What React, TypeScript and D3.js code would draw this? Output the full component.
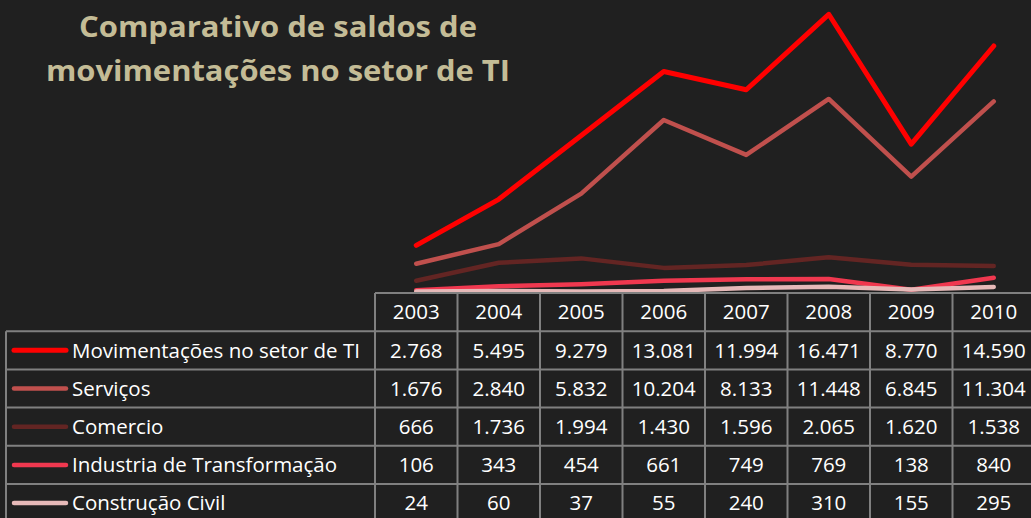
import React from "react";
import * as d3 from "d3";

const years = ["2003", "2004", "2005", "2006", "2007", "2008", "2009", "2010"];
const seriesNames = [
  "Movimentações no setor de TI",
  "Serviços",
  "Comercio",
  "Industria de Transformação",
  "Construção Civil",
];
const movimentacoes = [2768, 5495, 9279, 13081, 11994, 16471, 8770, 14590];
const servicos = [1676, 2840, 5832, 10204, 8133, 11448, 6845, 11304];
const comercio = [666, 1736, 1994, 1430, 1596, 2065, 1620, 1538];
const industria = [106, 343, 454, 661, 749, 769, 138, 840];
const construcao = [24, 60, 37, 55, 240, 310, 155, 295];
const seriesValues = [movimentacoes, servicos, comercio, industria, construcao];
const seriesColors = ["#FF0000", "#C0504D", "#632523", "#F0384F", "#E6B9B8"];
const titleLines = ["Comparativo de saldos de", "movimentações no setor de TI"];

const W = 1031;
const H = 518;
const colLeft = 375;
const colW = 82.5;
const legendLeft = 6;
const headerTop = 293;
const rowH = 38.2;

const fmt = d3.formatLocale({ decimal: ",", thousands: ".", grouping: [3], currency: ["R$", ""] }).format(",d");

export default function App() {
  const x = d3
    .scaleBand<string>()
    .domain(years)
    .range([colLeft, colLeft + colW * years.length])
    .paddingInner(0)
    .paddingOuter(0);
  const y = d3.scaleLinear().domain([0, 18000]).range([292, -11.5]);
  const line = d3
    .line<number>()
    .x((_, i) => (x(years[i]) as number) + x.bandwidth() / 2)
    .y((d) => y(d));

  const tableRight = colLeft + colW * years.length;
  const grid = "#808080";
  const font = "'Open Sans', 'DejaVu Sans', sans-serif";
  const fs = 20.5;
  const dy = 7.3;

  return (
    <svg
      width={W}
      height={H}
      style={{ position: "absolute", left: 0, top: 0, background: "#202020" }}
    >
      <rect x={0} y={0} width={W} height={H} fill="#202020" />
      <text
        x={278}
        y={37}
        textAnchor="middle"
        fill="#C4BC96"
        fontFamily={font}
        fontWeight="bold"
        fontSize={29}
        textLength={398}
        lengthAdjust="spacingAndGlyphs"
      >
        {titleLines[0]}
      </text>
      <text
        x={278}
        y={81}
        textAnchor="middle"
        fill="#C4BC96"
        fontFamily={font}
        fontWeight="bold"
        fontSize={29}
        textLength={464}
        lengthAdjust="spacingAndGlyphs"
      >
        {titleLines[1]}
      </text>

      {/* lines */}
      {seriesValues.map((vals, si) => (
        <path
          key={si}
          d={line(vals) as string}
          fill="none"
          stroke={seriesColors[si]}
          strokeWidth={si === 0 ? 5 : 4.5}
          strokeLinecap="round"
          strokeLinejoin="round"
        />
      ))}

      {/* table grid */}
      <g stroke={grid} strokeWidth={2}>
        <line x1={colLeft} x2={tableRight} y1={headerTop} y2={headerTop} />
        {seriesNames.map((_, r) => (
          <line
            key={"h" + r}
            x1={legendLeft}
            x2={tableRight}
            y1={headerTop + rowH * (r + 1)}
            y2={headerTop + rowH * (r + 1)}
          />
        ))}
        <line x1={legendLeft} x2={legendLeft} y1={headerTop + rowH} y2={H} />
        {years.map((yr, i) => (
          <line
            key={"v" + i}
            x1={x(yr) as number}
            x2={x(yr) as number}
            y1={headerTop}
            y2={H}
          />
        ))}
        <line x1={tableRight} x2={tableRight} y1={headerTop} y2={H} />
      </g>

      {/* header */}
      {years.map((yr) => (
        <text
          key={"y" + yr}
          x={(x(yr) as number) + x.bandwidth() / 2}
          y={headerTop + rowH / 2 + dy}
          textAnchor="middle"
          fill="#FFFFFF"
          fontFamily={font}
          fontSize={fs}
        >
          {yr}
        </text>
      ))}

      {/* rows */}
      {seriesNames.map((name, r) => {
        const cy = headerTop + rowH * (r + 1) + rowH / 2;
        return (
          <g key={"r" + r}>
            <line
              x1={14}
              x2={66}
              y1={cy}
              y2={cy}
              stroke={seriesColors[r]}
              strokeWidth={r === 0 ? 5 : 4.5}
              strokeLinecap="round"
            />
            <text x={72} y={cy + dy} fill="#FFFFFF" fontFamily={font} fontSize={fs}>
              {name}
            </text>
            {seriesValues[r].map((v, i) => (
              <text
                key={i}
                x={(x(years[i]) as number) + x.bandwidth() / 2}
                y={cy + dy}
                textAnchor="middle"
                fill="#FFFFFF"
                fontFamily={font}
                fontSize={fs}
              >
                {fmt(v)}
              </text>
            ))}
          </g>
        );
      })}
    </svg>
  );
}
